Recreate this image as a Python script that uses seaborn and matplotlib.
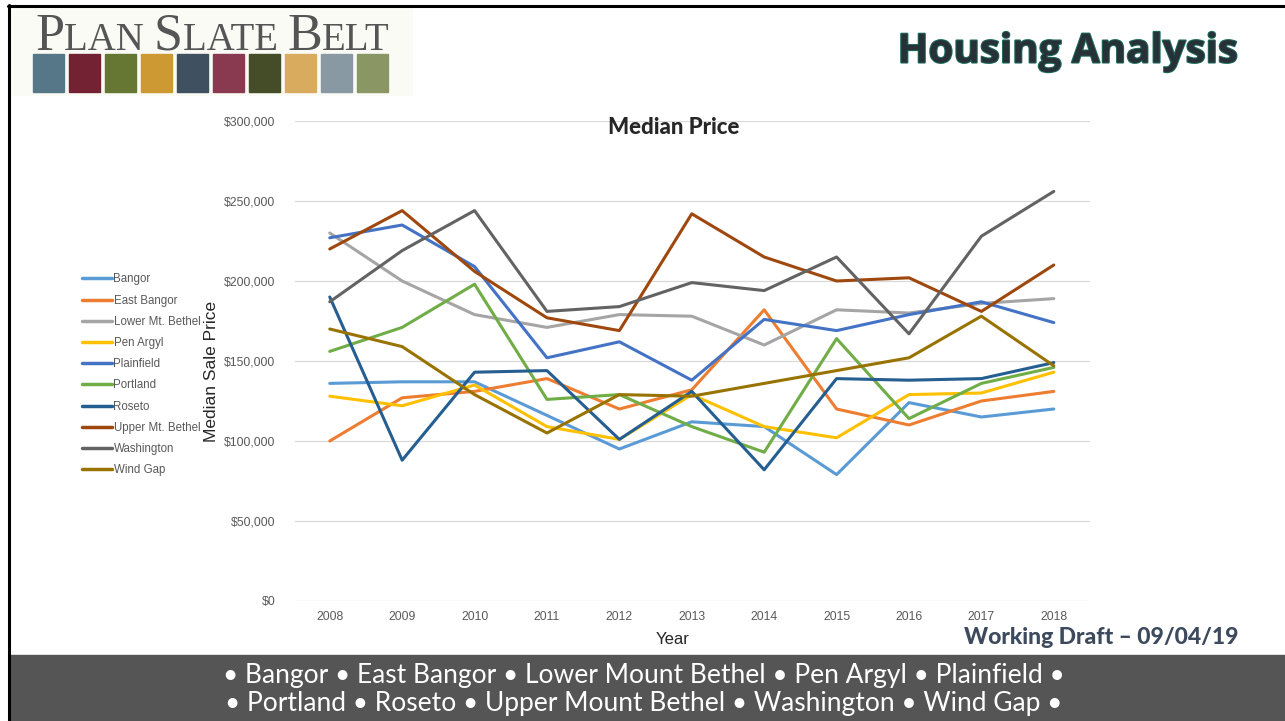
import pandas as pd
import seaborn as sns
import matplotlib.pyplot as plt
from matplotlib.patches import Rectangle
from matplotlib.lines import Line2D
from matplotlib.ticker import FuncFormatter
from matplotlib import patheffects as pe

years = list(range(2008, 2019))
bangor = [136000, 137000, 137000, 116000, 95000, 112000, 109000, 79000, 124000, 115000, 120000]
east_bangor = [100000, 127000, 131000, 139000, 120000, 132000, 182000, 120000, 110000, 125000, 131000]
lower_mt_bethel = [230000, 200000, 179000, 171000, 179000, 178000, 160000, 182000, 180000, 186000, 189000]
pen_argyl = [128000, 122000, 135000, 109000, 101000, 129000, 109000, 102000, 129000, 130000, 143000]
plainfield = [227000, 235000, 209000, 152000, 162000, 138000, 176000, 169000, 179000, 187000, 174000]
portland = [156000, 171000, 198000, 126000, 129000, 109000, 93000, 164000, 114000, 136000, 146000]
roseto = [190000, 88000, 143000, 144000, 101000, 131000, 82000, 139000, 138000, 139000, 149000]
upper_mt_bethel = [220000, 244000, 206000, 177000, 169000, 242000, 215000, 200000, 202000, 181000, 210000]
washington = [187000, 219000, 244000, 181000, 184000, 199000, 194000, 215000, 167000, 228000, 256000]
wind_gap = [170000, 159000, 129000, 105000, 129000, 128000, 136000, 144000, 152000, 178000, 147000]

places = ["Bangor", "East Bangor", "Lower Mt. Bethel", "Pen Argyl", "Plainfield",
          "Portland", "Roseto", "Upper Mt. Bethel", "Washington", "Wind Gap"]
series = [bangor, east_bangor, lower_mt_bethel, pen_argyl, plainfield,
          portland, roseto, upper_mt_bethel, washington, wind_gap]
colors = ["#5B9BD5", "#ED7D31", "#A5A5A5", "#FFC000", "#4472C4",
          "#70AD47", "#255E91", "#9E480E", "#636363", "#997300"]

df = pd.concat([pd.DataFrame({"Year": years, "Price": v, "Place": p})
                for p, v in zip(places, series)], ignore_index=True)

sns.set_style("white")
plt.rcParams['font.family'] = ['Liberation Sans', 'DejaVu Sans']

W, H = 1285, 721
fig = plt.figure(figsize=(12.85, 7.21), dpi=100)
ax = fig.add_axes([295 / W, 1 - 601 / H, 795 / W, 480 / H])

sns.lineplot(data=df, x="Year", y="Price", hue="Place", hue_order=places,
             palette=dict(zip(places, colors)), linewidth=2.2, ax=ax, legend=True)

ax.set_ylim(0, 300000)
ax.set_xlim(2007.52, 2018.5)
ax.set_xticks(years)
ax.set_yticks(range(0, 300001, 50000))
ax.yaxis.set_major_formatter(FuncFormatter(lambda v, _: f"${v:,.0f}"))
ax.grid(axis="y", color="#d9d9d9", linewidth=0.9)
ax.grid(axis="x", visible=False)
for s in ax.spines.values():
    s.set_visible(False)
ax.tick_params(axis="both", length=0, labelsize=8.8, labelcolor="#595959")
ax.tick_params(axis="y", pad=14)
ax.tick_params(axis="x", pad=7)
ax.set_xlabel("")
ax.set_ylabel("")
fig.text(673 / W, 1 - 640 / H, "Year", ha="center", va="center", fontsize=12)
fig.text(211 / W, 1 - 371 / H, "Median Sale Price", rotation=90,
         ha="center", va="center", fontsize=12.5)

handles, labels = ax.get_legend_handles_labels()
ax.get_legend().remove()
leg = fig.legend(handles, labels, loc="upper left",
                 bbox_to_anchor=(72 / W, 1 - 263 / H), frameon=False,
                 fontsize=8.3, labelcolor="#595959", handlelength=2.6,
                 handletextpad=0.1, labelspacing=0.8)
for h in leg.get_lines():
    h.set_linewidth(2.5)

fig.text(674 / W, 1 - 128 / H, "Median Price", ha="center", va="center",
         fontsize=16, fontweight="black", family=["Lato", "DejaVu Sans"])

# slide decorations
fig.text(1237 / W, 1 - 52 / H, "Housing Analysis", ha="right", va="center",
         fontsize=29, fontweight="bold", color="#263238", family=["Open Sans", "DejaVu Sans"],
         path_effects=[pe.withStroke(linewidth=1.5, foreground="#1e6b5a")])
fig.text(1238 / W, 1 - 637 / H, "Working Draft – 09/04/19", ha="right", va="center",
         fontsize=16.5, fontweight="black", color="#3d4a5e", family=["Lato", "DejaVu Sans"])

fig.patches.append(Rectangle((10 / W, 0), 1, 66 / H, transform=fig.transFigure,
                             color="#555555", zorder=0))
fig.text(644 / W, 1 - 675 / H, "• Bangor • East Bangor • Lower Mount Bethel • Pen Argyl • Plainfield •",
         ha="center", va="center", fontsize=19, color="white", family=["Lato", "DejaVu Sans"])
fig.text(644 / W, 1 - 703 / H, "• Portland • Roseto • Upper Mount Bethel • Washington • Wind Gap •",
         ha="center", va="center", fontsize=19, color="white", family=["Lato", "DejaVu Sans"])

# frame: top and left only
fig.lines.append(Line2D([8 / W, 1], [1 - 6 / H, 1 - 6 / H], transform=fig.transFigure,
                        color="black", linewidth=2.2, zorder=5))
fig.lines.append(Line2D([9 / W, 9 / W], [0, 1 - 5 / H], transform=fig.transFigure,
                        color="black", linewidth=2.2, zorder=5))

# logo
fig.patches.append(Rectangle((12 / W, 1 - 95 / H), 400 / W, 87 / H,
                             transform=fig.transFigure, color="#fbfbf6", zorder=0))
logo_cols = ["#557788", "#722233", "#667733", "#cc9933", "#3f5060",
             "#8a3a50", "#444d28", "#d9ab5f", "#8899a3", "#8a9663"]
for i, c in enumerate(logo_cols):
    fig.patches.append(Rectangle(((33 + i * 36) / W, 1 - 92 / H), 31 / W, 38 / H,
                                 transform=fig.transFigure, color=c, zorder=1))

fig.canvas.draw()
r = fig.canvas.get_renderer()
xpos = 35
for txt, size in [("P", 37.5), ("LAN ", 28), ("S", 37.5), ("LATE ", 28), ("B", 37.5), ("ELT", 28)]:
    t = fig.text(xpos / W, 1 - 50 / H, txt, fontsize=size, color="#555555",
                 family=["Liberation Serif", "DejaVu Serif"], ha="left", va="baseline")
    xpos += t.get_window_extent(r).width

fig.savefig("out.png", dpi=100)
